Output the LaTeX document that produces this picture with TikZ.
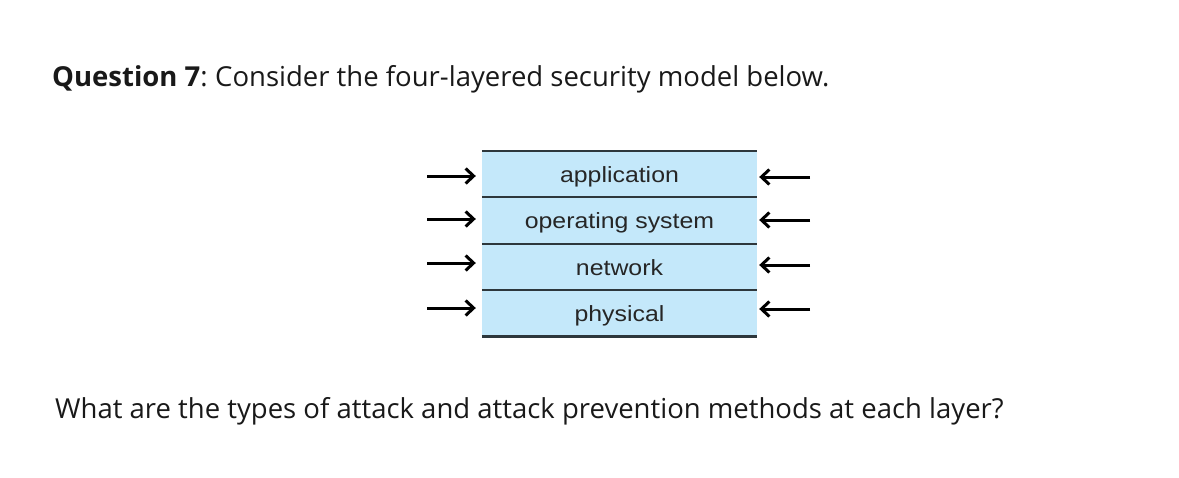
\documentclass[tikz,border=0pt]{standalone}
\usepackage{fontspec}
\usetikzlibrary{arrows.meta}
\newfontfamily\qfont{Open Sans}
\newfontfamily\boxfont[FakeStretch=1.13]{Liberation Sans}
\definecolor{layerblue}{RGB}{196,232,250}
\definecolor{layerline}{RGB}{45,55,60}
\begin{document}
\begin{tikzpicture}[x=1pt,y=-1pt,
  layer/.style={fill=layerblue,minimum width=275pt,minimum height=46pt,inner sep=0pt,
    text height=16.5pt,text depth=0pt,
    font=\boxfont\fontsize{22}{24}\selectfont,text=black!85},
  sep/.style={draw=layerline,line width=2.2pt},
  arr/.style={line width=3pt,-{Straight Barb[length=8pt,width=15pt,line width=3pt]}},
  qtext/.style={anchor=base west,inner sep=0pt,font=\qfont\fontsize{27.5}{32}\selectfont,text=black!90}]
\useasboundingbox (0,0) rectangle (1179,477);
\node[qtext] (title) at (52,86) {\textbf{Question 7}:\hspace{-2pt} Consider the four-layered security model below.};
\node[layer] (app) at (619.5,174) {application};
\node[layer,anchor=north] (os) at (app.south) {operating system};
\node[layer,anchor=north] (net) at (os.south) {network};
\node[layer,anchor=north] (phy) at (net.south) {physical};
\foreach \n in {app,os,net,phy}{
  \draw[sep] (\n.north west) -- (\n.north east);
}
\draw[sep] (phy.south west) -- (phy.south east);
\foreach \n/\yl/\yr in {app/176/177, os/219/220, net/263/265, phy/308/309}{
  \coordinate (L\n) at (427,\yl);
  \coordinate (R\n) at (810,\yr);
  \draw[arr,shorten >=6pt] (L\n) -- (L\n -| \n.west);
  \draw[arr,shorten >=2pt] (R\n) -- (R\n -| \n.east);
}
\node[qtext] (question) at (55,418) {What are the types of attack and attack prevention methods at each layer?};
\end{tikzpicture}
\end{document}
